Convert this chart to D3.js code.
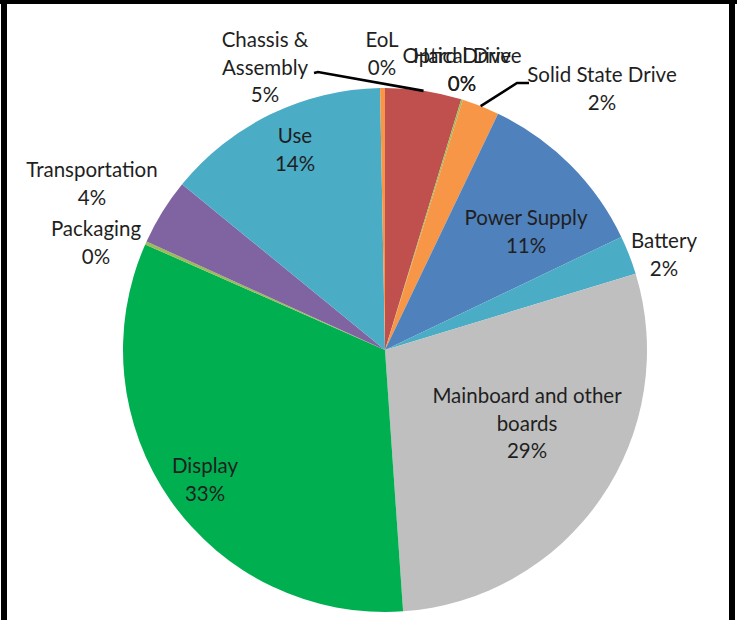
<!DOCTYPE html>
<html>
<head>
<meta charset="utf-8">
<script src="https://cdn.jsdelivr.net/npm/d3@7"></script>
<style>
  html, body { margin: 0; padding: 0; background: #fff; }
  svg { display: block; }
  text { font-family: Lato, "Open Sans", sans-serif; fill: #1f1f1f; }
</style>
</head>
<body>
<svg id="chart" width="737" height="620"></svg>
<script>
// ---- data ----
const categories = ["Chassis &\nAssembly", "Optical Drive", "Hard Drive", "Solid State Drive",
  "Power Supply", "Battery", "Mainboard and other\nboards", "Display", "Packaging",
  "Transportation", "Use", "EoL"];
const values = [4.7, 0.0, 0.1, 2.3, 10.8, 2.4, 28.6, 32.7, 0.2, 4.1, 13.8, 0.3];
const colors = ["#C0504D", "#F79646", "#9BBB59", "#F79646", "#4F81BD", "#4BACC6",
  "#BFBFBF", "#00B050", "#9BBB59", "#8064A2", "#4BACC6", "#F79646"];

// ---- layout (label block offsets from pie centre, first baseline) ----
const labelLayout = [
  { dx: -120, dy: -303, leader: "chassis" },
  { dx: 77, dy: -287 },
  { dx: 77, dy: -287 },
  { dx: 217, dy: -268, leader: "ssd" },
  { dx: 141, dy: -125 },
  { dx: 279, dy: -102 },
  { dx: 142, dy: 53 },
  { dx: -180, dy: 123 },
  { dx: -289, dy: -114 },
  { dx: -293, dy: -173 },
  { dx: -90, dy: -207 },
  { dx: -3, dy: -303 }
];

const W = 737, H = 620;
const cx = 385, cy = 350, R = 262;
const lineH = 27.5;

const svg = d3.select("#chart");

// frame
svg.append("rect").attr("x", 0).attr("y", 0).attr("width", W).attr("height", 4).attr("fill", "#000");
svg.append("rect").attr("x", 1).attr("y", 0).attr("width", 6).attr("height", H).attr("fill", "#000");
svg.append("rect").attr("x", 729).attr("y", 0).attr("width", 6).attr("height", H).attr("fill", "#000");

const data = categories.map((c, i) => ({ name: c, value: values[i], color: colors[i], i }));
const total = d3.sum(values);
const pct = d3.format(".0%");

const pie = d3.pie().sort(null).value(d => d.value).startAngle(0).endAngle(2 * Math.PI);
const arcs = pie(data);
const arc = d3.arc().innerRadius(0).outerRadius(R);
const rimArc = d3.arc().innerRadius(R).outerRadius(R);

const g = svg.append("g").attr("transform", `translate(${cx},${cy})`);

g.selectAll("path.slice")
  .data(arcs)
  .join("path")
  .attr("class", "slice")
  .attr("d", arc)
  .attr("fill", d => d.data.color);

// leader lines
arcs.forEach((a, i) => {
  const L = labelLayout[i];
  if (!L.leader) return;
  const [rx, ry] = rimArc.centroid(a);
  let pts;
  if (L.leader === "chassis") {
    pts = [[L.dx + 49, L.dy + 26], [L.dx + 53, L.dy + 25], [rx, ry]];
  } else {
    pts = [[L.dx - 73, L.dy + 1], [L.dx - 85, L.dy + 1], [rx, ry]];
  }
  g.append("path")
    .attr("d", d3.line()(pts))
    .attr("fill", "none")
    .attr("stroke", "#000")
    .attr("stroke-width", 2.6);
});

// labels
arcs.forEach((a, i) => {
  const L = labelLayout[i];
  const lines = a.data.name.split("\n").concat([pct(a.data.value / total)]);
  const t = g.append("text")
    .attr("text-anchor", "middle")
    .attr("font-size", 20.5);
  lines.forEach((ln, k) => {
    t.append("tspan")
      .attr("x", L.dx)
      .attr("y", L.dy + k * lineH)
      .text(ln);
  });
});
</script>
</body>
</html>
